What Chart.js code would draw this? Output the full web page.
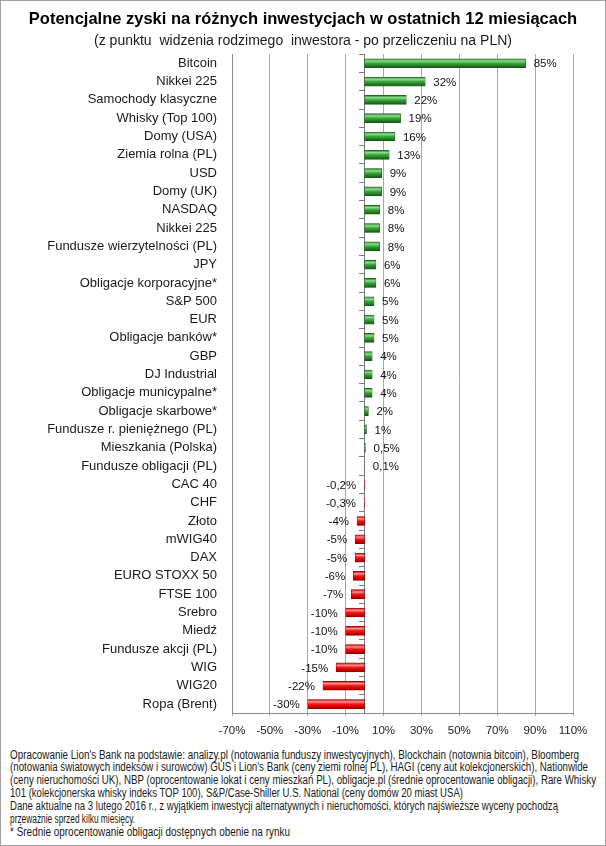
<!DOCTYPE html>
<html>
<head>
<meta charset="utf-8">
<script src="https://cdn.jsdelivr.net/npm/chart.js@4.4.1/dist/chart.umd.min.js"></script>
<style>
html,body{margin:0;padding:0;background:#fff}
#wrap{position:relative;width:606px;height:846px;overflow:hidden;background:#fff}
#cv{position:absolute;left:0;top:0}
#frame{position:absolute;left:0;top:0;width:606px;height:846px;box-sizing:border-box;border:1px solid #a0a0a0;pointer-events:none}
#notes{position:absolute;left:10px;top:748.5px;font-family:"Liberation Sans",Arial,sans-serif;font-size:12px;line-height:12.9px;color:#1a1a1a}
#notes div{white-space:pre;height:12.9px}
#notes span{display:inline-block;transform-origin:0 50%}
</style>
</head>
<body>
<div id="wrap">
<canvas id="cv" width="606" height="746"></canvas>
<div id="notes">
<div><span data-w="569">Opracowanie Lion's Bank na podstawie: analizy.pl (notowania funduszy inwestycyjnych), Blockchain (notownia bitcoin), Bloomberg</span></div>
<div><span data-w="578">(notowania światowych indeksów i surowców) GUS i Lion's Bank (ceny ziemi rolnej PL), HAGI (ceny aut kolekcjonerskich), Nationwide</span></div>
<div><span data-w="586">(ceny nieruchomości UK), NBP (oprocentowanie lokat i ceny mieszkań PL), obligacje.pl (średnie oprocentowanie obligacji), Rare Whisky</span></div>
<div><span data-w="453">101 (kolekcjonerska whisky indeks TOP 100), S&amp;P/Case-Shiller U.S. National (ceny domów 20 miast USA)</span></div>
<div><span data-w="548">Dane aktualne na 3 lutego 2016 r., z wyjątkiem inwestycji alternatywnych i nieruchomości, których najświeższe wyceny pochodzą</span></div>
<div><span data-w="125">przeważnie sprzed kilku miesięcy.</span></div>
<div><span data-w="280">* Średnie oprocentowanie obligacji dostępnych obenie na rynku</span></div>
</div>
<div id="frame"></div>
</div>
<script>
document.querySelectorAll('#notes span').forEach(sp => {
  const w = sp.getBoundingClientRect().width;
  const target = parseFloat(sp.dataset.w);
  if (w > 0) sp.style.transform = 'scaleX(' + (target / w) + ')';
});

const titleText = "Potencjalne zyski na różnych inwestycjach w ostatnich 12 miesiącach";
const subtitleText = "(z punktu  widzenia rodzimego  inwestora - po przeliczeniu na PLN)";

const categories = [
  "Bitcoin", "Nikkei 225", "Samochody klasyczne", "Whisky (Top 100)", "Domy (USA)",
  "Ziemia rolna (PL)", "USD", "Domy (UK)", "NASDAQ", "Nikkei 225",
  "Fundusze wierzytelności (PL)", "JPY", "Obligacje korporacyjne*", "S&P 500", "EUR",
  "Obligacje banków*", "GBP", "DJ Industrial", "Obligacje municypalne*", "Obligacje skarbowe*",
  "Fundusze r. pieniężnego (PL)", "Mieszkania (Polska)", "Fundusze obligacji (PL)", "CAC 40", "CHF",
  "Złoto", "mWIG40", "DAX", "EURO STOXX 50", "FTSE 100",
  "Srebro", "Miedź", "Fundusze akcji (PL)", "WIG", "WIG20", "Ropa (Brent)"
];

const values = [
  85, 32, 22, 19, 16,
  13, 9, 9, 8, 8,
  8, 6, 6, 5, 5,
  5, 4, 4, 4, 2,
  1, 0.5, 0.1, -0.2, -0.3,
  -4, -5, -5, -6, -7,
  -10, -10, -10, -15, -22, -30
];

const valueLabels = [
  "85%", "32%", "22%", "19%", "16%",
  "13%", "9%", "9%", "8%", "8%",
  "8%", "6%", "6%", "5%", "5%",
  "5%", "4%", "4%", "4%", "2%",
  "1%", "0,5%", "0,1%", "-0,2%", "-0,3%",
  "-4%", "-5%", "-5%", "-6%", "-7%",
  "-10%", "-10%", "-10%", "-15%", "-22%", "-30%"
];

const xTickValues = [-70, -50, -30, -10, 10, 30, 50, 70, 90, 110];

const FONT = '"Liberation Sans", Arial, sans-serif';
const BAR_T = 9;

function barFill(ctx) {
  const chart = ctx.chart;
  const y = chart.scales && chart.scales.y;
  const v = values[ctx.dataIndex];
  const flat = v < 0 ? '#e01010' : '#2e9a2e';
  if (!y || ctx.dataIndex === undefined) return flat;
  const cy = y.getPixelForValue(ctx.dataIndex);
  if (!isFinite(cy)) return flat;
  const g = chart.ctx.createLinearGradient(0, cy - BAR_T / 2, 0, cy + BAR_T / 2);
  if (v < 0) {
    g.addColorStop(0, '#b00000');
    g.addColorStop(0.25, '#ff9090');
    g.addColorStop(0.5, '#f01818');
    g.addColorStop(0.8, '#cc0000');
    g.addColorStop(1, '#8a0000');
  } else {
    g.addColorStop(0, '#2a7a2a');
    g.addColorStop(0.25, '#8edc8e');
    g.addColorStop(0.5, '#3aa83a');
    g.addColorStop(0.8, '#1f7a1f');
    g.addColorStop(1, '#135013');
  }
  return g;
}

const valueLabelPlugin = {
  id: 'valueLabels',
  afterDatasetsDraw(chart) {
    const meta = chart.getDatasetMeta(0);
    const c = chart.ctx;
    c.save();
    c.font = '11.5px ' + FONT;
    c.fillStyle = '#111';
    c.textBaseline = 'middle';
    meta.data.forEach((bar, i) => {
      const neg = values[i] < 0;
      c.textAlign = neg ? 'right' : 'left';
      c.fillText(valueLabels[i], bar.x + (neg ? -8 : 8), bar.y + 1);
    });
    c.restore();
  }
};

new Chart(document.getElementById('cv'), {
  type: 'bar',
  data: {
    labels: categories,
    datasets: [{
      data: values,
      backgroundColor: barFill,
      borderColor: (ctx) => values[ctx.dataIndex] < 0 ? '#9a0000' : '#1a5e1a',
      borderWidth: 0.6,
      borderSkipped: false,
      barThickness: BAR_T
    }]
  },
  options: {
    indexAxis: 'y',
    responsive: false,
    animation: false,
    devicePixelRatio: 1,
    layout: { padding: { top: 10, left: 0, right: 0, bottom: 0 } },
    plugins: {
      legend: { display: false },
      tooltip: { enabled: false },
      title: {
        display: true, text: titleText, color: '#000',
        font: { family: FONT, size: 16.5, weight: 'bold', lineHeight: 1.2 },
        padding: { top: 0, bottom: 3 }
      },
      subtitle: {
        display: true, text: subtitleText, color: '#1a1a1a',
        font: { family: FONT, size: 14, weight: 'normal', lineHeight: 1.2 },
        padding: { top: 0, bottom: 4.5 }
      }
    },
    scales: {
      x: {
        min: -70, max: 110,
        afterBuildTicks: (s) => { s.ticks = xTickValues.map(v => ({ value: v })); },
        afterFit: (s) => { s.height = 32.8; },
        grid: { color: '#a8a8a8', lineWidth: 1, tickLength: 3 },
        border: { color: '#8a8a8a' },
        ticks: {
          callback: (v) => v + '%', padding: 8, color: '#1a1a1a',
          font: { family: FONT, size: 11.5 }, maxRotation: 0, autoSkip: false
        }
      },
      y: {
        grid: { display: false },
        border: { display: true, color: '#8a8a8a' },
        afterFit: (s) => { s.width = 232; },
        ticks: { padding: 7, color: '#1a1a1a', autoSkip: false, font: { family: FONT, size: 13 } }
      },
      yRight: {
        type: 'category', axis: 'y', position: 'right', labels: categories,
        grid: { display: false },
        border: { display: false },
        ticks: { display: false },
        afterFit: (s) => { s.width = 33; }
      },
      y2: {
        type: 'category', axis: 'y', labels: categories,
        position: { x: 0 }, offset: true,
        grid: { offset: true, drawOnChartArea: false, drawTicks: true, tickLength: 5, color: '#7a7a7a' },
        border: { display: true, color: '#7a7a7a' },
        ticks: { display: false }
      }
    }
  },
  plugins: [valueLabelPlugin]
});
</script>
</body>
</html>
